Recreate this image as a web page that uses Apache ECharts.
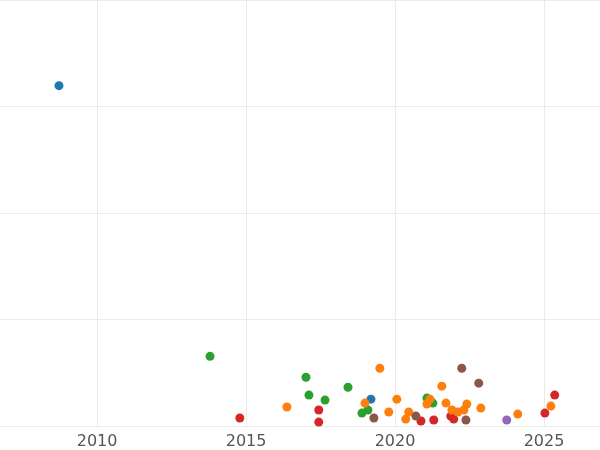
<!DOCTYPE html>
<html><head><meta charset="utf-8">
<script src="https://cdn.jsdelivr.net/npm/echarts@6/dist/echarts.min.js"></script>
<style>html,body{margin:0;padding:0;background:#fff}#c{width:600px;height:450px}</style>
</head><body><div id="c"></div>
<script>
const xTicks = [2010, 2015, 2020, 2025];
const blue = [[2008.72,3.196],[2019.19,0.252]];
const green = [[2013.79,0.654],[2017.01,0.458],[2017.11,0.29],[2017.65,0.243],[2018.42,0.364],[2018.89,0.121],[2019.09,0.15],[2021.07,0.262],[2021.27,0.215]];
const red = [[2014.79,0.075],[2017.44,0.15],[2017.44,0.037],[2020.87,0.047],[2021.30,0.056],[2021.87,0.093],[2021.97,0.065],[2025.03,0.121],[2025.36,0.29]];
const orange = [[2016.37,0.178],[2018.99,0.215],[2019.49,0.542],[2019.79,0.131],[2020.06,0.252],[2020.36,0.065],[2020.46,0.131],[2021.07,0.206],[2021.17,0.252],[2021.57,0.374],[2021.71,0.215],[2021.91,0.15],[2022.11,0.131],[2022.31,0.15],[2022.41,0.206],[2022.88,0.168],[2024.12,0.112],[2025.23,0.187]];
const brown = [[2019.29,0.075],[2020.70,0.093],[2022.24,0.542],[2022.81,0.402],[2022.38,0.056]];
const purple = [[2023.75,0.056]];
const groups = [[blue,'#1f77b4'],[green,'#2ca02c'],[red,'#d62728'],[orange,'#ff7f0e'],[brown,'#8c564b'],[purple,'#9467bd']];
const chart = echarts.init(document.getElementById('c'));
chart.setOption({
  animation:false,
  grid:{left:0,right:0,top:0,bottom:23,containLabel:false},
  xAxis:{type:'value',min:2006.74,max:2026.88,
    axisLine:{show:false},
    axisTick:{show:false,customValues:xTicks},
    axisLabel:{customValues:xTicks,color:'#555',fontSize:16,margin:8,fontFamily:'DejaVu Sans',formatter:v=>String(v)},
    splitLine:{show:true,lineStyle:{color:'#ebebeb',width:1}}},
  yAxis:{type:'value',min:0,max:4,interval:1,
    axisLine:{show:false},axisTick:{show:false},axisLabel:{show:false},
    splitLine:{show:true,lineStyle:{color:'#ebebeb',width:1}}},
  series:groups.map(([d,c])=>({type:'scatter',data:d,symbolSize:9,itemStyle:{color:c,opacity:1}}))
});
</script></body></html>
